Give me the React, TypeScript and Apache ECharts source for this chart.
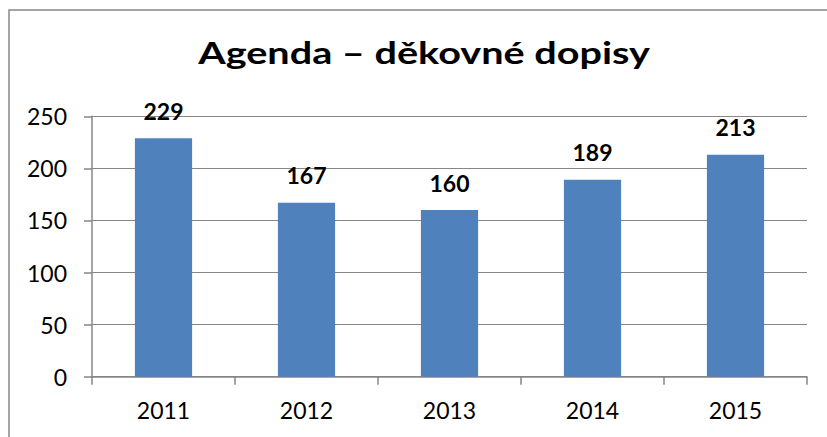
import React, { useEffect, useRef } from "react";
import * as echarts from "echarts";

const categories = ["2011", "2012", "2013", "2014", "2015"];
const values = [229, 167, 160, 189, 213];
const titleText = "Agenda – děkovné dopisy";

export default function App() {
  const ref = useRef<HTMLDivElement>(null);
  useEffect(() => {
    if (!ref.current) return;
    const chart = echarts.init(ref.current, undefined, { renderer: "svg" });
    const font = "Lato, 'Open Sans', sans-serif";
    chart.setOption({
      animation: false,
      backgroundColor: "#ffffff",
      graphic: [
        {
          type: "rect",
          shape: { x: 9, y: 10, width: 840, height: 450 },
          style: { fill: "none", stroke: "#868686", lineWidth: 1.5 },
          silent: true,
        },
        {
          type: "text",
          x: 424,
          y: 37,
          scaleX: 1.32,
          style: {
            text: titleText,
            align: "center",
            verticalAlign: "top",
            fontFamily: font,
            fontWeight: "bold",
            fontSize: 30,
            fill: "#000",
          },
          silent: true,
        },
      ],
      grid: { left: 92, right: 20, top: 116.3, bottom: 60.3 },
      xAxis: {
        type: "category",
        data: categories,
        axisLine: { lineStyle: { color: "#868686", width: 1.5 } },
        axisTick: { show: true, length: 8, lineStyle: { color: "#868686", width: 1.5 } },
        axisLabel: { color: "#000", fontFamily: font, fontSize: 23, margin: 22 },
      },
      yAxis: {
        type: "value",
        min: 0,
        max: 250,
        interval: 50,
        axisLine: { show: true, lineStyle: { color: "#868686", width: 1.5 } },
        axisTick: { show: true, length: 8, lineStyle: { color: "#868686", width: 1.5 } },
        splitLine: { lineStyle: { color: "#868686", width: 1 } },
        axisLabel: { color: "#000", fontFamily: font, fontSize: 23, margin: 25 },
      },
      series: [
        {
          type: "bar",
          data: values,
          barWidth: "40%",
          itemStyle: { color: "#4F81BD" },
          label: {
            show: true,
            position: "top",
            distance: 16,
            color: "#000",
            fontFamily: font,
            fontWeight: "bold",
            fontSize: 23,
          },
        },
      ],
    });
    return () => chart.dispose();
  }, []);
  return (
    <div
      ref={ref}
      style={{ position: "absolute", left: 0, top: 0, width: 827, height: 437 }}
    />
  );
}
